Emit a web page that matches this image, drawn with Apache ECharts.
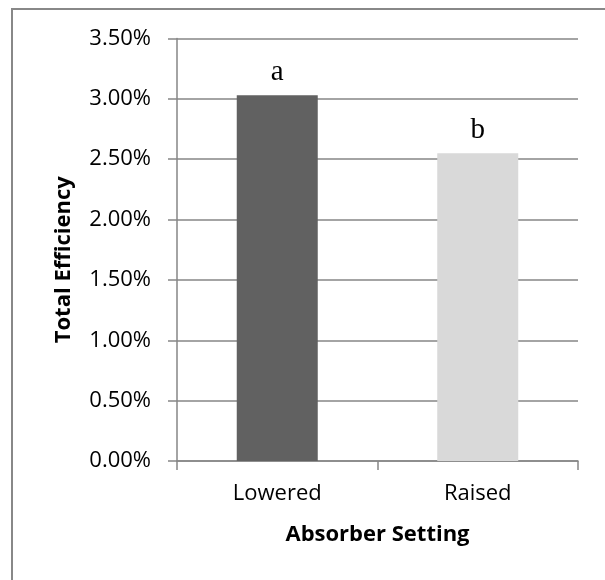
<!DOCTYPE html>
<html><head><meta charset="utf-8">
<script src="https://cdn.jsdelivr.net/npm/echarts@6/dist/echarts.min.js"></script>
<style>html,body{margin:0;padding:0;background:#fff}#c{width:605px;height:580px}</style>
</head><body><div id="c"></div>
<script>
const categories = ['Lowered', 'Raised'];
const values = [3.03, 2.55];
const letters = ['a', 'b'];
const barColors = ['#616161', '#d9d9d9'];
const yMin = 0, yMax = 3.5, yStep = 0.5;

const chart = echarts.init(document.getElementById('c'), null, {renderer: 'canvas'});
const sans = '"Open Sans", "Noto Sans", sans-serif';
chart.setOption({
  animation: false,
  backgroundColor: '#fff',
  graphic: [{
    type: 'rect', shape: {x: 12, y: 9, width: 700, height: 700},
    style: {fill: 'none', stroke: '#888', lineWidth: 2}, silent: true
  }],
  grid: {left: 177, right: 27, top: 38.5, bottom: 119},
  xAxis: {
    type: 'category', data: categories,
    name: 'Absorber Setting', nameLocation: 'middle', nameGap: 63,
    nameTextStyle: {fontFamily: sans, fontSize: 22, fontWeight: 'bold', color: '#000'},
    axisLine: {lineStyle: {color: '#868686', width: 1.5}},
    axisTick: {show: true, length: 9, lineStyle: {color: '#868686', width: 1.5}},
    axisLabel: {fontFamily: sans, fontSize: 22, color: '#000', margin: 22}
  },
  yAxis: {
    type: 'value', min: yMin, max: yMax, interval: yStep,
    name: 'Total Efficiency', nameLocation: 'middle', nameGap: 102,
    nameTextStyle: {fontFamily: sans, fontSize: 22, fontWeight: 'bold', color: '#000',
      padding: [0, 20, 0, 0]},
    axisLine: {show: true, lineStyle: {color: '#868686', width: 1.5}},
    axisTick: {show: true, length: 9, lineStyle: {color: '#868686', width: 1.5}},
    splitLine: {lineStyle: {color: '#868686', width: 1.5}},
    axisLabel: {fontFamily: sans, fontSize: 22, color: '#000', margin: 26,
      formatter: v => v.toFixed(2) + '%'}
  },
  series: [{
    type: 'bar', barWidth: 81,
    data: values.map((v, i) => ({value: v, itemStyle: {color: barColors[i]},
      label: {show: true, position: 'top', distance: 8, formatter: letters[i],
        fontFamily: '"Liberation Serif", "DejaVu Serif", serif', fontSize: 29, color: '#000'}}))
  }]
});
</script></body></html>
